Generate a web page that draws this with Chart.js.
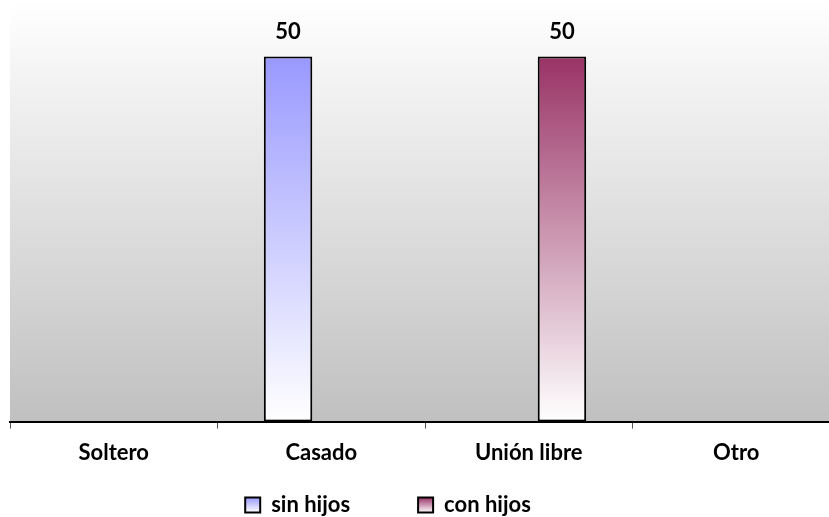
<!DOCTYPE html>
<html>
<head>
<meta charset="utf-8">
<script src="https://cdn.jsdelivr.net/npm/chart.js@4"></script>
<style>
html,body{margin:0;padding:0;background:#fff;overflow:hidden;}
#wrap{width:840px;height:577px;}
</style>
</head>
<body>
<div id="wrap"><canvas id="c" width="840" height="577"></canvas></div>
<script>
const categories = ["Soltero", "Casado", "Unión libre", "Otro"];
const sinHijos = [null, 50, null, null];
const conHijos = [null, null, 50, null];
const seriesNames = ["sin hijos", "con hijos"];
const seriesTopColors = ["#9999ff", "#993366"];

const FONT = "Lato, 'Open Sans', sans-serif";
const LEGEND_PAD = 68;

function barGradient(topColor) {
  return function(ctx) {
    const chart = ctx.chart;
    if (!chart.chartArea || ctx.raw == null) return topColor;
    const y = chart.scales.y;
    const y0 = y.getPixelForValue(ctx.raw);
    const y1 = y.getPixelForValue(0);
    const g = chart.ctx.createLinearGradient(0, y0, 0, y1);
    g.addColorStop(0, topColor);
    g.addColorStop(1, "#ffffff");
    return g;
  };
}

const bgPlugin = {
  id: "bgGrad",
  afterLayout(chart) {
    const lg = chart.legend;
    if (lg) {
      lg.left -= 37; lg.right -= 37;
      const h = lg.bottom - lg.top;
      lg.top = 426; lg.bottom = 426 + h;
    }
  },
  beforeDraw(chart) {
    const {ctx, chartArea} = chart;
    ctx.save();
    const g = ctx.createLinearGradient(0, 0, 0, chartArea.bottom);
    g.addColorStop(0, "#ffffff");
    g.addColorStop(1, "#c0c0c0");
    ctx.fillStyle = g;
    ctx.fillRect(chartArea.left, 0, chart.width - chartArea.left, chartArea.bottom);
    ctx.restore();
    const lg = chart.legend;
    if (lg && lg.legendItems) {
      const top = lg.top + LEGEND_PAD + 3.5;
      lg.legendItems.forEach((item, i) => {
        const gr = ctx.createLinearGradient(0, top, 0, top + 15);
        gr.addColorStop(0, seriesTopColors[i]);
        gr.addColorStop(1, "#ffffff");
        item.fillStyle = gr;
      });
    }
  }
};

const labelPlugin = {
  id: "valLabels",
  afterDatasetsDraw(chart) {
    const ctx = chart.ctx;
    ctx.save();
    ctx.font = "bold 22px " + FONT;
    ctx.fillStyle = "#000";
    ctx.textAlign = "center";
    ctx.textBaseline = "middle";
    chart.data.datasets.forEach((ds, di) => {
      const meta = chart.getDatasetMeta(di);
      meta.data.forEach((el, i) => {
        if (ds.data[i] == null) return;
        ctx.fillText(String(ds.data[i]), el.x, el.y - 25);
      });
    });
    ctx.restore();
  }
};

new Chart(document.getElementById("c"), {
  type: "bar",
  data: {
    labels: categories,
    datasets: [
      {label: seriesNames[0], data: sinHijos, backgroundColor: barGradient(seriesTopColors[0]), borderColor: "#000", borderWidth: 2, borderSkipped: false},
      {label: seriesNames[1], data: conHijos, backgroundColor: barGradient(seriesTopColors[1]), borderColor: "#000", borderWidth: 2, borderSkipped: false}
    ]
  },
  options: {
    responsive: false,
    animation: false,
    devicePixelRatio: 1,
    layout: {padding: {left: 10, right: 0, top: 20, bottom: 0}},
    datasets: {bar: {categoryPercentage: 0.64, barPercentage: 0.73}},
    scales: {
      x: {
        grid: {display: true, drawOnChartArea: false, drawTicks: true, tickLength: 7, color: "#555", offset: true},
        border: {display: true, color: "#000", width: 2},
        ticks: {font: {family: FONT, size: 22, weight: "bold"}, color: "#000", padding: 11, maxRotation: 0}
      },
      y: {display: false, min: 0, max: 55}
    },
    plugins: {
      legend: {
        position: "bottom",
        labels: {font: {family: FONT, size: 22, weight: "bold"}, color: "#000", boxWidth: 15, boxHeight: 15, padding: LEGEND_PAD}
      },
      tooltip: {enabled: false}
    }
  },
  plugins: [bgPlugin, labelPlugin]
});
</script>
</body>
</html>
